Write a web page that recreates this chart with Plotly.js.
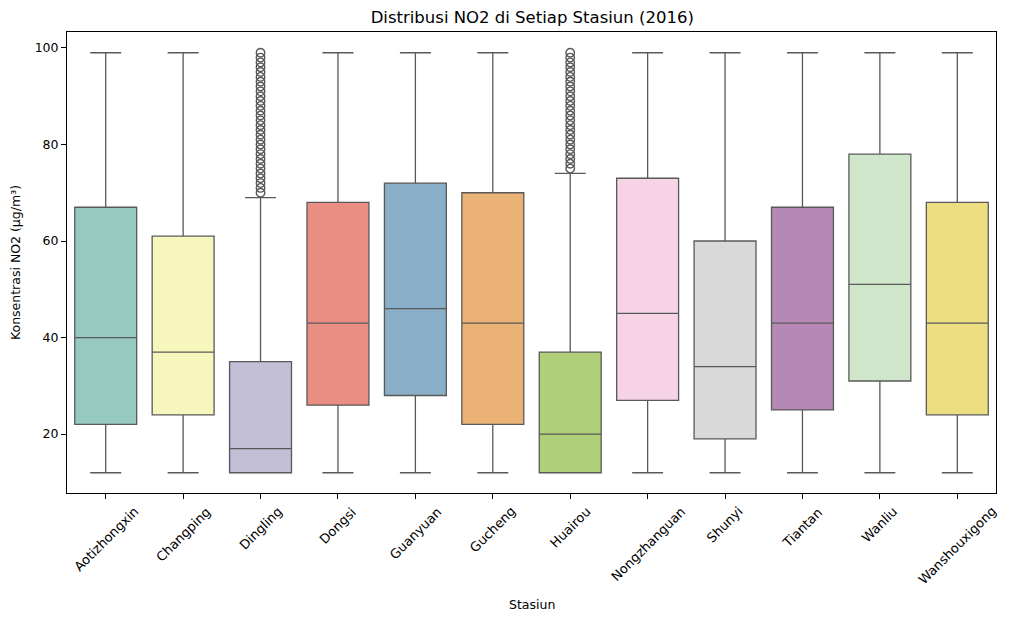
<!DOCTYPE html>
<html>
<head>
<meta charset="utf-8">
<script src="https://cdn.plot.ly/plotly-3.0.1.min.js"></script>
<style>html,body{margin:0;padding:0;background:#fff}#chart{width:1010px;height:621px}</style>
</head>
<body>
<div id="chart"></div>
<script>
const stations = ['Aotizhongxin','Changping','Dingling','Dongsi','Guanyuan','Gucheng','Huairou','Nongzhanguan','Shunyi','Tiantan','Wanliu','Wanshouxigong'];
const q1 =     [22, 24, 12, 26, 28, 22, 12, 27, 19, 25, 31, 24];
const median = [40, 37, 17, 43, 46, 43, 20, 45, 34, 43, 51, 43];
const q3 =     [67, 61, 35, 68, 72, 70, 37, 73, 60, 67, 78, 68];
const lowWhisk = [12, 12, 12, 12, 12, 12, 12, 12, 12, 12, 12, 12];
const highWhisk = [99, 99, 69, 99, 99, 99, 74, 99, 99, 99, 99, 99];
const colors = ['#96cac1','#f6f6bd','#c1bed6','#ea8e83','#8aafc9','#eab375','#afcf78','#f6d3e5','#d9d9d9','#b588b5','#cfe6ca','#eddf81'];
// outliers above the upper whisker
const dinglingOut = [70,71,72,73,74,75,76,77,78,79,80,81,82,83,84,85,86,87,88,89,90,91,92,93,94,95,96,97,98,99];
const huairouOut = [75,76,77,78,79,80,81,82,83,84,85,86,87,88,89,90,91,92,93,94,95,96,97,98,99];

const lineCol = '#595959';
const traces = stations.map((s, i) => ({
  type: 'box', name: s, x: [s],
  q1: [q1[i]], median: [median[i]], q3: [q3[i]],
  lowerfence: [lowWhisk[i]], upperfence: [highWhisk[i]],
  fillcolor: colors[i], line: { color: lineCol, width: 1.3 },
  width: 0.8, whiskerwidth: 0.5, boxpoints: false, hoverinfo: 'y', showlegend: false
}));
traces.push({
  type: 'scatter', mode: 'markers', showlegend: false,
  x: dinglingOut.map(() => 'Dingling').concat(huairouOut.map(() => 'Huairou')),
  y: dinglingOut.concat(huairouOut),
  marker: { symbol: 'circle-open', size: 8.5, color: lineCol, line: { width: 1.4, color: lineCol } }
});

// rotated category labels, centred on their ticks
const tickAnn = stations.map(s => ({
  x: s, xref: 'x', y: -0.018, yref: 'paper', text: s, showarrow: false,
  textangle: -45, xanchor: 'center', yanchor: 'top',
  font: { family: 'DejaVu Sans', size: 13, color: '#000' }
}));
tickAnn.push({
  x: 0.5, xref: 'paper', y: -0.241, yref: 'paper', text: 'Stasiun', showarrow: false,
  xanchor: 'center', yanchor: 'middle', font: { family: 'DejaVu Sans', size: 12.5, color: '#000' }
});

const layout = {
  width: 1010, height: 621,
  margin: { l: 67, r: 14, t: 32, b: 128 },
  paper_bgcolor: '#fff', plot_bgcolor: '#fff',
  font: { family: 'DejaVu Sans', size: 12.5, color: '#000' },
  title: { text: 'Distribusi NO2 di Setiap Stasiun (2016)', x: 0.527, xanchor: 'center', y: 0.973, yanchor: 'middle', font: { size: 16.5 } },
  boxmode: 'overlay',
  xaxis: {
    type: 'category', categoryorder: 'array', categoryarray: stations,
    range: [-0.5, 11.5], showticklabels: false,
    ticks: 'outside', ticklen: 5, tickcolor: '#000', showline: true, linecolor: '#000', linewidth: 1, mirror: true,
    showgrid: false, zeroline: false
  },
  yaxis: {
    range: [7.8, 103.3], tickvals: [20, 40, 60, 80, 100],
    ticks: 'outside', ticklen: 5, tickcolor: '#000', showline: true, linecolor: '#000', linewidth: 1, mirror: true,
    showgrid: false, zeroline: false,
    title: { text: 'Konsentrasi NO2 (µg/m³)', standoff: 11, font: { size: 12.5 } }
  },
  annotations: tickAnn
};

Plotly.newPlot('chart', traces, layout, { displayModeBar: false, staticPlot: true });
</script>
</body>
</html>
